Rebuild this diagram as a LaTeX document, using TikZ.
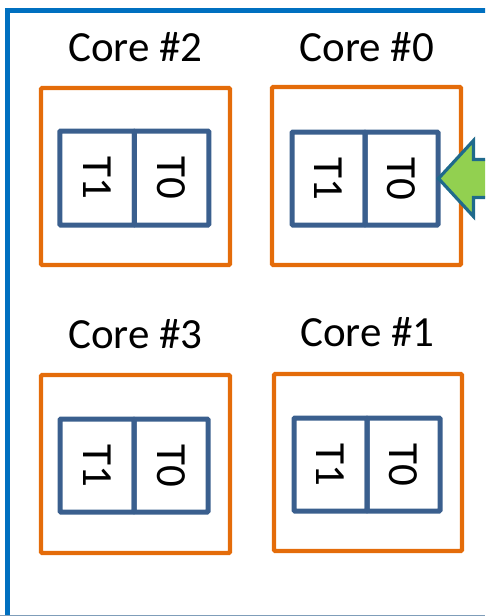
\documentclass[tikz,border=0pt]{standalone}
\usepackage{fontspec}
\setmainfont{Carlito}
\definecolor{frameblue}{HTML}{0070C0}
\definecolor{coreorange}{HTML}{E46C0A}
\definecolor{threadblue}{HTML}{3A5F8E}
\definecolor{arrowgreen}{HTML}{92D050}
\definecolor{arrowedge}{HTML}{1F6A8C}
\definecolor{edgegray}{HTML}{7F9DB9}
\tikzset{
  corebox/.style={draw=coreorange, line width=4.2pt, minimum width=189pt, minimum height=177pt, inner sep=0pt, rounded corners=1pt},
  threadbox/.style={draw=threadblue, line width=5pt, minimum width=74pt, minimum height=93pt, inner sep=0pt,
    rounded corners=1pt, font=\fontsize{43}{50}\selectfont, rotate=-90},
  corelabel/.style={anchor=base, inner sep=0pt, font=\fontsize{43}{50}\selectfont},
}
\begin{document}
\begin{tikzpicture}[x=1pt, y=-1pt]
\useasboundingbox (0,0) rectangle (485,616);
\clip (0,0) rectangle (485,616);
% outer frame, running past the right and bottom edges
\draw[frameblue, line width=5pt] (7.5,10) rectangle (520,660);
\draw[edgegray, line width=1pt] (0,615.5) -- (485,615.5);

% cores
\node[corebox] (c2) at (135.5,176.5) {};
\node[corebox, minimum height=178pt] (c0) at (366.5,176) {};
\node[corebox, minimum height=178pt] (c3) at (135.5,464) {};
\node[corebox, minimum width=188pt] (c1) at (368,462.5) {};

\node[corelabel] (l2) at (135.5,61) {Core \#2};
\node[corelabel] (l0) at (367,61) {Core \#0};
\node[corelabel] (l3) at (135.5,348) {Core \#3};
\node[corelabel] (l1) at (367.5,346) {Core \#1};

% hardware threads (rotated so the text reads top to bottom)
\node[threadbox, minimum width=94pt, minimum height=74.5pt] (c2t1) at (97,178) {T1};
\node[threadbox, minimum width=94pt, minimum height=74.5pt] (c2t0) at (171.5,178) {T0};
\node[threadbox, minimum width=93pt, minimum height=73pt] (c0t1) at (328.5,178.5) {T1};
\node[threadbox, minimum width=93pt, minimum height=73pt] (c0t0) at (401.5,178.5) {T0};
\node[threadbox, minimum width=93pt, minimum height=74pt] (c3t1) at (97,465.5) {T1};
\node[threadbox, minimum width=93pt, minimum height=74pt] (c3t0) at (171,465.5) {T0};
\node[threadbox, minimum width=93pt, minimum height=73pt] (c1t1) at (330.5,464.5) {T1};
\node[threadbox, minimum width=93pt, minimum height=73pt] (c1t0) at (403.5,464.5) {T0};

% block arrow pointing at thread T0 of core #0
\coordinate (tip) at (c0t0.north);
\draw[arrowedge, fill=arrowgreen, line width=3.2pt, line join=miter]
  ([xshift=-2pt]tip) -- ++(35,-38) -- ++(0,19) -- ++(40,0) -- ++(0,38) -- ++(-40,0) -- ++(0,19) -- cycle;
\end{tikzpicture}
\end{document}
